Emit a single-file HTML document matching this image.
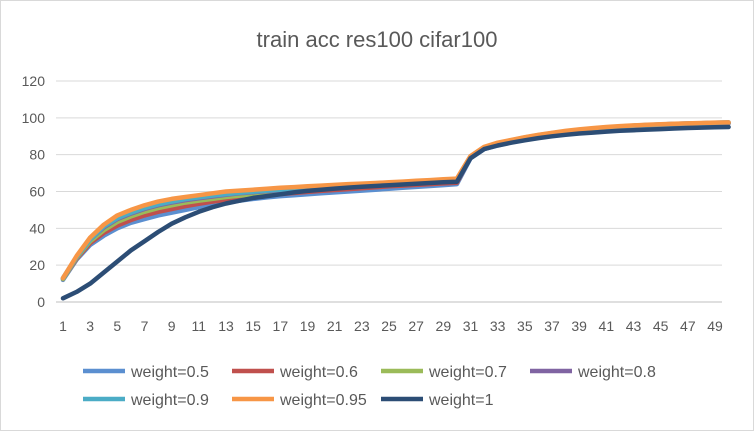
<!DOCTYPE html>
<html><head><meta charset="utf-8"><style>
body{margin:0;background:#fff;font-family:"Liberation Sans",sans-serif}
</style></head><body>
<svg id="c" width="754" height="431" xmlns="http://www.w3.org/2000/svg" font-family="Liberation Sans, sans-serif">
<rect x="0.5" y="0.5" width="753" height="430" fill="#fff" stroke="#d9d9d9"/>
<text x="377" y="47" text-anchor="middle" font-size="22" fill="#595959">train acc res100 cifar100</text>
<g id="grid"></g><g id="series"></g><g id="axes"></g><g id="legend"></g>
</svg>
<script>
const yTicks=[0,20,40,60,80,100,120];
const categories=Array.from({length:50},(_,i)=>i+1);
const seriesNames=["weight=0.5","weight=0.6","weight=0.7","weight=0.8","weight=0.9","weight=0.95","weight=1"];
const colors=["#5b8fd0","#c0504d","#9bbb59","#8064a2","#4bacc6","#f79646","#2c4d75"];
const w05=[12,23,31,36,40,43,45,47,48.5,50,51.5,53,54,55,56,56.8,57.5,58,58.5,59,59.5,60,60.5,61,61.5,62,62.5,63,63.5,64,78,83,85,86.8,88.3,89.6,90.8,91.8,92.7,93.5,94.2,94.8,95.3,95.7,96,96.3,96.5,96.7,96.9,97];
const w06=[12.5,23.5,32,37.5,41.5,44.5,47,49,50.5,52,53.3,54.5,55.5,56.5,57.3,58,58.6,59.2,59.8,60.3,60.8,61.3,61.8,62.3,62.8,63.2,63.6,64,64.4,64.8,78.5,83.5,85.5,87.2,88.7,90,91.2,92.2,93,93.8,94.5,95,95.5,95.9,96.2,96.5,96.7,96.9,97.1,97.2];
const w07=[12.5,24,33,39,43.5,46.5,49,51,52.5,54,55,56,57,57.8,58.5,59.2,59.8,60.3,60.8,61.3,61.8,62.3,62.8,63.2,63.6,64,64.4,64.8,65.2,65.6,78.8,83.8,85.8,87.5,89,90.3,91.4,92.4,93.2,94,94.6,95.1,95.6,96,96.3,96.6,96.8,97,97.2,97.3];
const w08=[13,24.5,34,40.5,45,48,50.5,52.5,54,55.3,56.3,57.3,58.2,59,59.6,60.2,60.7,61.2,61.7,62.2,62.6,63,63.4,63.8,64.2,64.6,65,65.4,65.8,66.2,79,84,86,87.7,89.2,90.5,91.6,92.6,93.4,94.1,94.7,95.2,95.7,96.1,96.4,96.7,96.9,97.1,97.3,97.4];
const w09=[13,24.5,34,41,45.5,48.5,51,53,54.5,55.8,56.8,57.8,58.6,59.3,59.9,60.5,61,61.5,62,62.5,62.9,63.3,63.7,64.1,64.5,64.9,65.3,65.7,66.1,66.5,79,84,86.2,87.8,89.3,90.6,91.7,92.7,93.5,94.2,94.8,95.3,95.8,96.1,96.4,96.7,96.9,97.1,97.3,97.5];
const w095=[13,25,35,42,47,50,52.5,54.5,56,57,58,59,60,60.5,61,61.5,62,62.4,62.8,63.2,63.6,64,64.3,64.6,65,65.4,65.8,66.2,66.6,67,79.2,84.2,86.5,88,89.5,90.8,91.9,92.9,93.7,94.4,95,95.5,95.9,96.2,96.5,96.8,97,97.2,97.4,97.5];
const w1=[2,5.5,10,16,22,28,33,38,42.5,46,49,51.5,53.5,55,56.5,57.5,58.5,59.5,60.3,61,61.6,62.1,62.6,63,63.4,63.8,64.2,64.6,65,65.3,78,83,85,86.5,87.8,89,90,90.8,91.5,92,92.5,93,93.3,93.6,93.9,94.2,94.5,94.7,94.9,95];
const seriesData=[w05,w06,w07,w08,w09,w095,w1];
const NS="http://www.w3.org/2000/svg";
const x0=63,xStep=(715-63)/48,y0=302,yPer=(302-81)/120;
const X=i=>x0+i*xStep, Y=v=>y0-v*yPer;
function mk(tag,attrs,parent,txt){const e=document.createElementNS(NS,tag);for(const k in attrs)e.setAttribute(k,attrs[k]);if(txt!==undefined)e.textContent=txt;parent.appendChild(e);return e;}
const grid=document.getElementById('grid'),axes=document.getElementById('axes'),ser=document.getElementById('series'),leg=document.getElementById('legend');
yTicks.forEach(t=>{
 const l=mk('line',{x1:56,x2:722,y1:Y(t),y2:Y(t),stroke:t===0?'#bfbfbf':'#d9d9d9','stroke-width':1},grid);
 
 
 const tx=mk('text',{x:45,y:Y(t)+5,'text-anchor':'end','font-size':14,fill:'#595959'},axes,String(t));
 
 
});
categories.forEach((c,i)=>{
 if(c%2===1){
  const tx=mk('text',{x:X(i),y:331,'text-anchor':'middle','font-size':14,fill:'#595959'},axes,String(c));
  
  
 }
});
seriesData.forEach((d,s)=>{
 const p=mk('polyline',{points:d.map((v,i)=>X(i).toFixed(1)+','+Y(v).toFixed(1)).join(' '),fill:'none',stroke:colors[s],'stroke-width':4.5,'stroke-linejoin':'round','stroke-linecap':'round'},ser);
 
 
});
const legPos=[[83,371],[232,371],[381,371],[530,371],[83,399],[232,399],[381,399]];
seriesNames.forEach((n,s)=>{
 const [lx,ly]=legPos[s];
 const g=mk('g',{},leg);
 
 
 mk('line',{x1:lx,x2:lx+42,y1:ly,y2:ly,stroke:colors[s],'stroke-width':4.5},g);
 mk('text',{x:lx+48,y:ly+6,'font-size':16,fill:'#595959'},g,n);
});
</script>
</body></html>
